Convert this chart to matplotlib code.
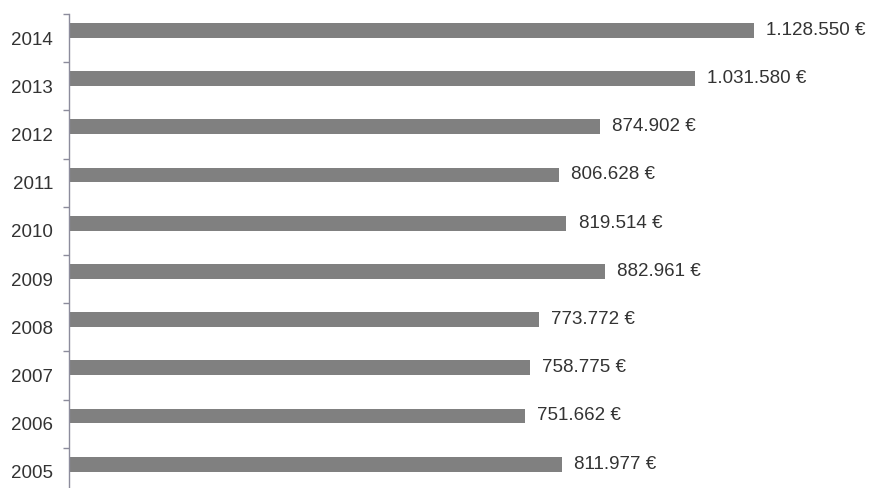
import numpy as np
import matplotlib
matplotlib.use("Agg")
import matplotlib.pyplot as plt

years = ["2005", "2006", "2007", "2008", "2009", "2010", "2011", "2012", "2013", "2014"]
values = [811977, 751662, 758775, 773772, 882961, 819514, 806628, 874902, 1031580, 1128550]

plt.rcParams["font.family"] = ["Liberation Sans", "DejaVu Sans"]

W, H = 872, 488
fig = plt.figure(figsize=(W / 100, H / 100), dpi=100)
# axes runs off the bottom of the canvas, like the reference crop
left, top, bottom = 69, 14, 496
ax = fig.add_axes([left / W, (H - bottom) / H, (W - left) / W, (bottom - top) / H])

pos = np.arange(len(years))
ax.barh(pos + 0.16, values, height=0.31, color="#808080", edgecolor="none")

for p, v in zip(pos, values):
    txt = f"{v:,}".replace(",", ".") + " €"
    ax.text(v + 20000, p + 0.16, txt, va="center", ha="left",
            fontsize=13.5, color="#333333")

ax.set_xlim(0, 1647.5 * (W - left))
ax.set_ylim(-0.5, len(years) - 0.5)

ax.set_yticks(pos)
ax.set_yticklabels(years, fontsize=13.5, color="#333333")
ax.tick_params(axis="y", which="major", length=0, pad=11.5)
ax.set_yticks(np.append(pos - 0.5, len(years) - 0.5), minor=True)
ax.tick_params(axis="y", which="minor", length=4, color="#8c8c9c", width=1)
ax.set_xticks([])

for s in ["top", "right", "bottom"]:
    ax.spines[s].set_visible(False)
ax.spines["left"].set_color("#8c8c9c")
ax.spines["left"].set_linewidth(1)

fig.savefig("out.png", dpi=100)
